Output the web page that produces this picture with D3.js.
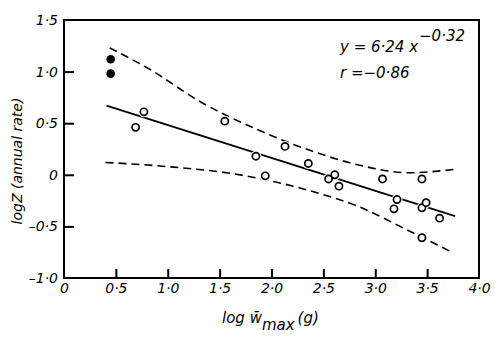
<!DOCTYPE html>
<html><head><meta charset="utf-8">
<script src="https://cdn.jsdelivr.net/npm/d3@7"></script>
<style>
body{margin:0;background:#fff;}
text{font-family:"DejaVu Sans",sans-serif;font-style:italic;fill:#000;}
</style></head>
<body><svg id="c" width="500" height="341"></svg>
<script>
// ---- data ----
const xTicks = [0, 0.5, 1.0, 1.5, 2.0, 2.5, 3.0, 3.5, 4.0];
const xTickLabels = ["0", "0·5", "1·0", "1·5", "2·0", "2·5", "3·0", "3·5", "4·0"];
const yTicks = [-1.0, -0.5, 0, 0.5, 1.0, 1.5];
const yTickLabels = ["–1·0", "–0·5", "0", "0·5", "1·0", "1·5"];

const filledX = [0.45, 0.45];
const filledY = [1.12, 0.98];

const openX = [0.69, 0.77, 1.55, 1.85, 1.94, 2.13, 2.355, 2.55, 2.61, 2.65, 3.07, 3.18, 3.21, 3.45, 3.45, 3.49, 3.62, 3.45];
const openY = [0.46, 0.61, 0.52, 0.18, -0.01, 0.275, 0.11, -0.04, 0.0, -0.11, -0.04, -0.33, -0.24, -0.04, -0.32, -0.27, -0.42, -0.61];

const fitX = [0.41, 3.77];
const fitY = [0.67, -0.40];

const upperX = [0.44, 0.83, 1.31, 1.86, 2.39, 2.82, 3.33, 3.78];
const upperY = [1.23, 1.02, 0.71, 0.44, 0.23, 0.10, 0.02, 0.055];
const lowerX = [0.40, 0.99, 1.63, 2.39, 2.82, 3.30, 3.72];
const lowerY = [0.12, 0.08, 0.01, -0.16, -0.30, -0.53, -0.74];

// ---- chart ----
const svg = d3.select("#c");
const L = 64, R = 479, T = 20, B = 278;
const x = d3.scaleLinear().domain([0, 4]).range([L, R]);
const y = d3.scaleLinear().domain([-1, 1.5]).range([B, T]);

const xa = svg.append("g").attr("transform", `translate(0,${B})`)
  .call(d3.axisBottom(x).tickValues(xTicks).tickSize(-9).tickSizeOuter(0).tickPadding(5)
    .tickFormat((d, i) => xTickLabels[i]));
const ya = svg.append("g").attr("transform", `translate(${L},0)`)
  .call(d3.axisLeft(y).tickValues(yTicks).tickSize(-10).tickSizeOuter(0).tickPadding(6)
    .tickFormat((d, i) => yTickLabels[i]));
[xa, ya].forEach(a => {
  a.select(".domain").remove();
  a.selectAll(".tick line").attr("stroke", "#000").attr("stroke-width", 2);
  a.selectAll(".tick text").style("font-family", "DejaVu Sans").style("font-style", "italic")
    .style("font-size", "14px").attr("fill", "#000");
});
xa.selectAll(".tick").filter(d => d === 0 || d === 4).select("line").remove();
ya.selectAll(".tick").filter(d => d === -1 || d === 1.5).select("line").remove();

// frame
svg.append("rect").attr("x", L).attr("y", T).attr("width", R - L).attr("height", B - T)
  .attr("fill", "none").attr("stroke", "#000").attr("stroke-width", 2);

// confidence bands
const band = d3.line().x(d => x(d[0])).y(d => y(d[1])).curve(d3.curveMonotoneX);
[[upperX, upperY], [lowerX, lowerY]].forEach(([xs, ys]) => {
  svg.append("path").datum(xs.map((v, i) => [v, ys[i]])).attr("d", band)
    .attr("fill", "none").attr("stroke", "#000").attr("stroke-width", 1.6)
    .attr("stroke-dasharray", "8,5");
});
// regression line
svg.append("path").datum(fitX.map((v, i) => [v, fitY[i]]))
  .attr("d", d3.line().x(d => x(d[0])).y(d => y(d[1])))
  .attr("fill", "none").attr("stroke", "#000").attr("stroke-width", 1.8);

// open points with white halo
const open = openX.map((v, i) => [v, openY[i]]);
svg.append("g").selectAll("circle").data(open).join("circle")
  .attr("cx", d => x(d[0])).attr("cy", d => y(d[1])).attr("r", 5.5).attr("fill", "#fff");
svg.append("g").selectAll("circle").data(open).join("circle")
  .attr("cx", d => x(d[0])).attr("cy", d => y(d[1])).attr("r", 3.6)
  .attr("fill", "#fff").attr("stroke", "#000").attr("stroke-width", 1.7);
svg.append("g").selectAll("circle").data(filledX.map((v, i) => [v, filledY[i]])).join("circle")
  .attr("cx", d => x(d[0])).attr("cy", d => y(d[1])).attr("r", 4.3).attr("fill", "#000");

// annotations
const eq = svg.append("text").attr("x", 340).attr("y", 52).style("font-size", "15px");
eq.append("tspan").text("y = 6·24 x");
eq.append("tspan").attr("dy", -11).attr("dx", 1).text("−0·32");
svg.append("text").attr("x", 340).attr("y", 78).style("font-size", "15px").text("r =−0·86");

// axis titles
const xt = svg.append("text").attr("x", 222).attr("y", 323).style("font-size", "15px");
xt.append("tspan").text("log w\u0304");
xt.append("tspan").attr("dy", 7).text("max");
xt.append("tspan").attr("dy", -7).attr("dx", 3).text("(g)");

svg.append("text").attr("transform", "translate(22,161) rotate(-90)")
  .attr("text-anchor", "middle").style("font-size", "14px").text("logZ (annual rate)");
</script></body></html>
